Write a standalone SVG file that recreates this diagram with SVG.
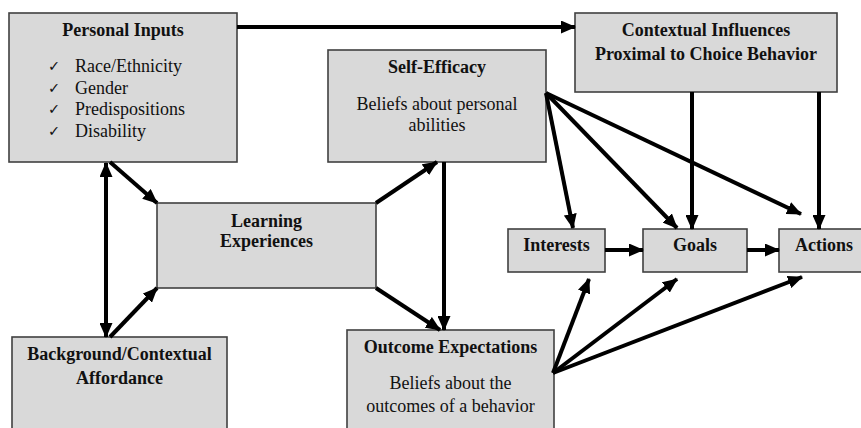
<svg xmlns="http://www.w3.org/2000/svg" width="861" height="428" viewBox="0 0 861 428">
<style>
.box{fill:#d9d9d9;stroke:#404040;stroke-width:1.6}
.t{font-family:"Liberation Serif","Times New Roman",serif;font-size:18px;fill:#111;text-anchor:middle}
.b{font-weight:bold}
.l{text-anchor:start}
.ck{font-family:"DejaVu Sans",sans-serif;font-size:14.5px;fill:#111}
.c line{stroke:#000;stroke-width:4;marker-end:url(#ah)}
</style>
<defs>
<marker id="ah" viewBox="0 0 15 13" refX="14" refY="6.5" markerWidth="15" markerHeight="13" markerUnits="userSpaceOnUse" orient="auto-start-reverse">
<path d="M0,0 L15,6.5 L0,13 z" fill="#000"/>
</marker>
</defs>
<rect width="861" height="428" fill="#fff"/>
<g id="personal-inputs">
<rect class="box" x="9" y="13" width="228" height="149"/>
<text class="t b" x="123" y="36">Personal Inputs</text>
<text class="ck" x="48" y="71">✓</text>
<text class="ck" x="48" y="92.5">✓</text>
<text class="ck" x="48" y="114">✓</text>
<text class="ck" x="48" y="135.5">✓</text>
<text class="t l" x="75" y="72">Race/Ethnicity</text>
<text class="t l" x="75" y="93.5">Gender</text>
<text class="t l" x="75" y="115">Predispositions</text>
<text class="t l" x="75" y="136.5">Disability</text>
</g>
<g id="contextual-influences">
<rect class="box" x="575" y="13" width="262" height="79"/>
<text class="t b" x="706" y="36">Contextual Influences</text>
<text class="t b" x="706" y="60">Proximal to Choice Behavior</text>
</g>
<g id="self-efficacy">
<rect class="box" x="328" y="50" width="218" height="112"/>
<text class="t b" x="437" y="73">Self-Efficacy</text>
<text class="t" x="437" y="110">Beliefs about personal</text>
<text class="t" x="437" y="131">abilities</text>
</g>
<g id="learning-experiences">
<rect class="box" x="157" y="203" width="219" height="85"/>
<text class="t b" x="266.5" y="227">Learning</text>
<text class="t b" x="266.5" y="247">Experiences</text>
</g>
<g id="background">
<rect class="box" x="12" y="337" width="215" height="100"/>
<text class="t b" x="119.5" y="360">Background/Contextual</text>
<text class="t b" x="119.5" y="384">Affordance</text>
</g>
<g id="outcome-expectations">
<rect class="box" x="347" y="330" width="207" height="107"/>
<text class="t b" x="450.5" y="353">Outcome Expectations</text>
<text class="t" x="450.5" y="389">Beliefs about the</text>
<text class="t" x="450.5" y="412">outcomes of a behavior</text>
</g>
<g id="interests">
<rect class="box" x="508" y="229" width="97" height="43"/>
<text class="t b" x="556.5" y="251">Interests</text>
</g>
<g id="goals">
<rect class="box" x="643" y="229" width="104" height="43"/>
<text class="t b" x="695" y="251">Goals</text>
</g>
<g id="actions">
<rect class="box" x="779" y="229" width="90" height="43"/>
<text class="t b" x="824" y="251">Actions</text>
</g>
<g id="connectors" class="c">
<line x1="237" y1="27" x2="575" y2="27"/>
<line x1="106" y1="163" x2="106" y2="337" style="marker-start:url(#ah)"/>
<line x1="110" y1="162" x2="157" y2="203"/>
<line x1="110" y1="337" x2="157" y2="288"/>
<line x1="376" y1="203" x2="437" y2="162"/>
<line x1="376" y1="288" x2="440" y2="330"/>
<line x1="444" y1="162" x2="444" y2="330"/>
<line x1="546" y1="93" x2="573" y2="228"/>
<line x1="546" y1="93" x2="677" y2="228"/>
<line x1="546" y1="93" x2="801" y2="214"/>
<line x1="692" y1="92" x2="692" y2="229"/>
<line x1="819" y1="92" x2="819" y2="229"/>
<line x1="605" y1="250" x2="643" y2="250"/>
<line x1="747" y1="250" x2="779" y2="250"/>
<line x1="553" y1="373" x2="589" y2="279"/>
<line x1="553" y1="373" x2="677" y2="279"/>
<line x1="553" y1="373" x2="802" y2="277"/>
</g>
</svg>
